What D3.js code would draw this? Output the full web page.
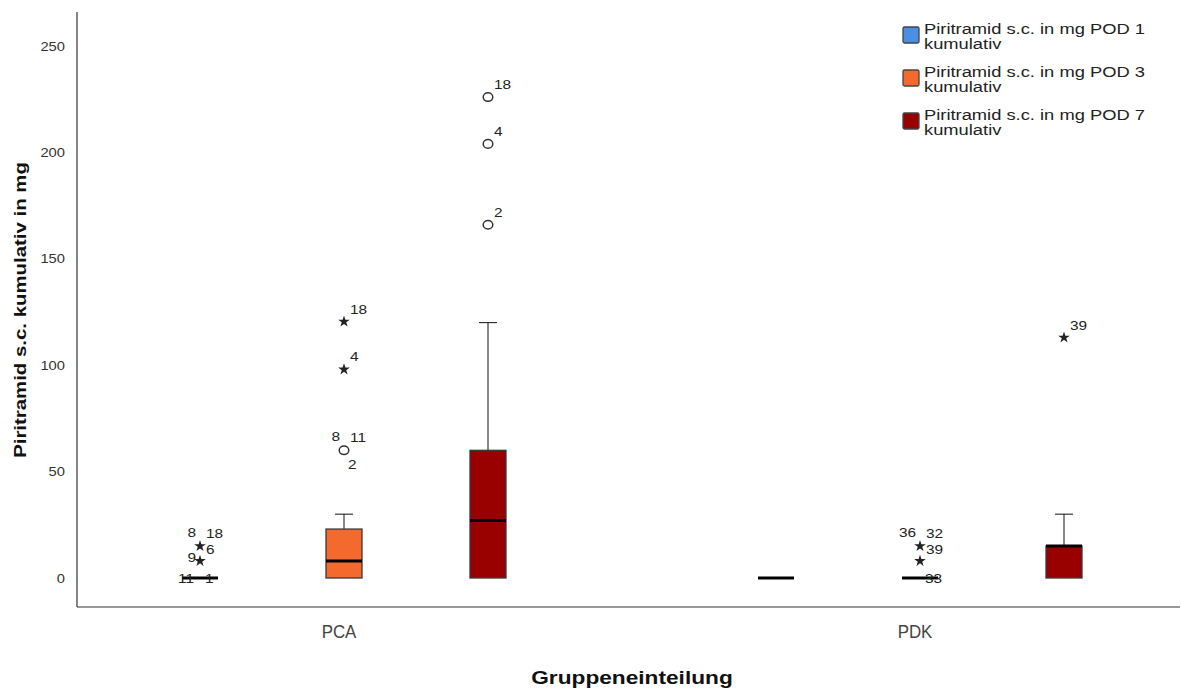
<!DOCTYPE html>
<html><head><meta charset="utf-8">
<script src="https://cdn.jsdelivr.net/npm/d3@7"></script>
<style>
body{margin:0;background:#fff}
text{font-family:"Liberation Sans",Arial,sans-serif}
</style>
</head><body>
<svg id="c" width="1181" height="688"></svg>
<script>
// ---------- DATA ----------
const groups = ["PCA", "PDK"];
const seriesLine1 = ["Piritramid s.c. in mg POD 1", "Piritramid s.c. in mg POD 3", "Piritramid s.c. in mg POD 7"];
const seriesLine2 = ["kumulativ", "kumulativ", "kumulativ"];
const seriesColors = ["#4a8fe2", "#f4692d", "#990000"];
const yTicks = [0, 50, 100, 150, 200, 250];
// box statistics per series: [lower whisker, Q1, median, Q3, upper whisker]
const statsPCA = [[0, 0, 0, 0, 0], [0, 0, 8, 23, 30], [0, 0, 27, 60, 120]];
const statsPDK = [[0, 0, 0, 0, 0], [0, 0, 0, 0, 0], [0, 0, 15, 15, 30]];
// outliers: [series index, value, kind ("star" extreme / "circle" outlier / "none"), labels [text, side]]
const outliersPCA = [
  [0, 15, "star", [["8", "nw"], ["18", "ne"], ["6", "e"]]],
  [0, 8, "star", [["9", "w"]]],
  [0, 0, "none", [["11", "w0"], ["1", "e0"]]],
  [1, 60, "circle", [["8", "nw"], ["11", "ne"], ["2", "se"]]],
  [1, 98, "star", [["4", "ne"]]],
  [1, 120.5, "star", [["18", "ne"]]],
  [2, 166, "circle", [["2", "ne"]]],
  [2, 204, "circle", [["4", "ne"]]],
  [2, 226, "circle", [["18", "ne"]]]
];
const outliersPDK = [
  [1, 15, "star", [["36", "nw"], ["32", "ne"], ["39", "e"]]],
  [1, 8, "star", []],
  [1, 0, "none", [["33", "e0"]]],
  [2, 113, "star", [["39", "ne"]]]
];
const xTitle = "Gruppeneinteilung";
const yTitle = "Piritramid s.c. kumulativ in mg";

// ---------- LAYOUT ----------
const svg = d3.select("#c");
const axisLeft = 77, axisRight = 1180, axisTop = 12, axisBottom = 607;
const y = d3.scaleLinear().domain([0, 250]).range([578, 46]);
const x0 = d3.scaleBand().domain(groups).range([56, 1208]);
const x1 = d3.scaleBand().domain(d3.range(3)).range([-216, 216]);
const boxW = x1.bandwidth() * 0.25;
const capW = boxW * 0.5;
const stretch = (sel, sx) => sel.attr("transform", function () {
  const xx = +this.getAttribute("x"), yy = +this.getAttribute("y");
  return `translate(${xx},${yy}) scale(${sx},1) translate(${-xx},${-yy})`;
});

// axes lines
svg.append("line").attr("x1", axisLeft).attr("x2", axisLeft).attr("y1", axisTop).attr("y2", axisBottom)
  .attr("stroke", "#333").attr("stroke-width", 1.2);
svg.append("line").attr("x1", axisLeft).attr("x2", axisRight).attr("y1", axisBottom).attr("y2", axisBottom)
  .attr("stroke", "#333").attr("stroke-width", 1.2);

// y tick labels via d3 axis
const gy = svg.append("g").attr("transform", `translate(65,0)`)
  .call(d3.axisLeft(y).tickValues(yTicks).tickSize(0).tickPadding(0));
gy.select(".domain").remove();
gy.selectAll("text").attr("font-size", 12.5).attr("fill", "#333")
  .attr("font-family", "Liberation Sans, Arial, sans-serif")
  .attr("transform", "scale(1.18,1)");

// x tick labels via d3 axis
const gx = svg.append("g").attr("transform", `translate(-5,${axisBottom})`)
  .call(d3.axisBottom(x0).tickSize(0).tickPadding(18));
gx.select(".domain").remove();
gx.selectAll("text").attr("font-size", 18).attr("fill", "#444")
  .attr("font-family", "Liberation Sans, Arial, sans-serif")
  .attr("transform", "scale(0.94,1)");

// titles
svg.append("text").attr("x", 632).attr("y", 684).attr("text-anchor", "middle")
  .attr("font-size", 18).attr("font-weight", "bold").attr("fill", "#111").text(xTitle)
  .call(stretch, 1.26);
svg.append("text").attr("transform", `translate(26,310) rotate(-90) scale(1.2,1)`).attr("text-anchor", "middle")
  .attr("font-size", 17).attr("font-weight", "bold").attr("fill", "#111").text(yTitle);

// boxes
const statsAll = [statsPCA, statsPDK];
const gBoxes = svg.append("g");
groups.forEach((g, gi) => {
  statsAll[gi].forEach((s, si) => {
    const cx = x0(g) + x0.bandwidth() / 2 + x1(si) + x1.bandwidth() / 2;
    const [lo, q1, med, q3, hi] = s;
    const gg = gBoxes.append("g");
    if (hi > q3) {
      gg.append("line").attr("x1", cx).attr("x2", cx).attr("y1", y(q3)).attr("y2", y(hi)).attr("stroke", "#111");
      gg.append("line").attr("x1", cx - capW / 2).attr("x2", cx + capW / 2).attr("y1", y(hi)).attr("y2", y(hi)).attr("stroke", "#111");
    }
    if (lo < q1) {
      gg.append("line").attr("x1", cx).attr("x2", cx).attr("y1", y(q1)).attr("y2", y(lo)).attr("stroke", "#111");
      gg.append("line").attr("x1", cx - capW / 2).attr("x2", cx + capW / 2).attr("y1", y(lo)).attr("y2", y(lo)).attr("stroke", "#111");
    }
    if (q3 > q1) {
      gg.append("rect").attr("x", cx - boxW / 2).attr("width", boxW)
        .attr("y", y(q3)).attr("height", y(q1) - y(q3))
        .attr("fill", seriesColors[si]).attr("stroke", "#3a3a3a").attr("stroke-width", 1.3);
    }
    gg.append("line").attr("x1", cx - boxW / 2).attr("x2", cx + boxW / 2)
      .attr("y1", y(med)).attr("y2", y(med)).attr("stroke", "#000").attr("stroke-width", 3);
  });
});

// outliers
const offs = {
  ne: [6, -8, "start"], nw: [-4, -9, "end"], e: [6, 8, "start"], w: [-4, 1, "end"],
  se: [4, 19, "start"], e0: [5, 5, "start"], w0: [-6, 5, "end"]
};
const outAll = [outliersPCA, outliersPDK];
const gOut = svg.append("g");
const star = d3.symbol().type(d3.symbolStar).size(42);
groups.forEach((g, gi) => {
  outAll[gi].forEach(([si, v, kind, labels]) => {
    const cx = x0(g) + x0.bandwidth() / 2 + x1(si) + x1.bandwidth() / 2;
    const cy = y(v);
    if (kind === "star") {
      gOut.append("path").attr("d", star).attr("transform", `translate(${cx},${cy})`).attr("fill", "#222");
    } else if (kind === "circle") {
      gOut.append("ellipse").attr("cx", cx).attr("cy", cy).attr("rx", 4.8).attr("ry", 4.3)
        .attr("fill", "#fff").attr("stroke", "#333").attr("stroke-width", 1.5);
    }
    labels.forEach(([t, side]) => {
      const o = offs[side];
      gOut.append("text").attr("x", cx + o[0]).attr("y", cy + o[1]).attr("text-anchor", o[2])
        .attr("font-size", 13.5).attr("fill", "#222").text(t).call(stretch, 1.14);
    });
  });
});

// legend
const gl = svg.append("g");
seriesLine1.forEach((t, i) => {
  const top = 22 + i * 43;
  gl.append("rect").attr("x", 903).attr("y", top + 5).attr("width", 16).attr("height", 16).attr("rx", 1.5)
    .attr("fill", seriesColors[i]).attr("stroke", "#444").attr("stroke-width", 1.3);
  gl.append("text").attr("x", 924).attr("y", top + 12).attr("font-size", 14).attr("fill", "#222").text(t)
    .call(stretch, 1.31);
  gl.append("text").attr("x", 924).attr("y", top + 27).attr("font-size", 14).attr("fill", "#222").text(seriesLine2[i])
    .call(stretch, 1.31);
});
</script>
</body></html>
